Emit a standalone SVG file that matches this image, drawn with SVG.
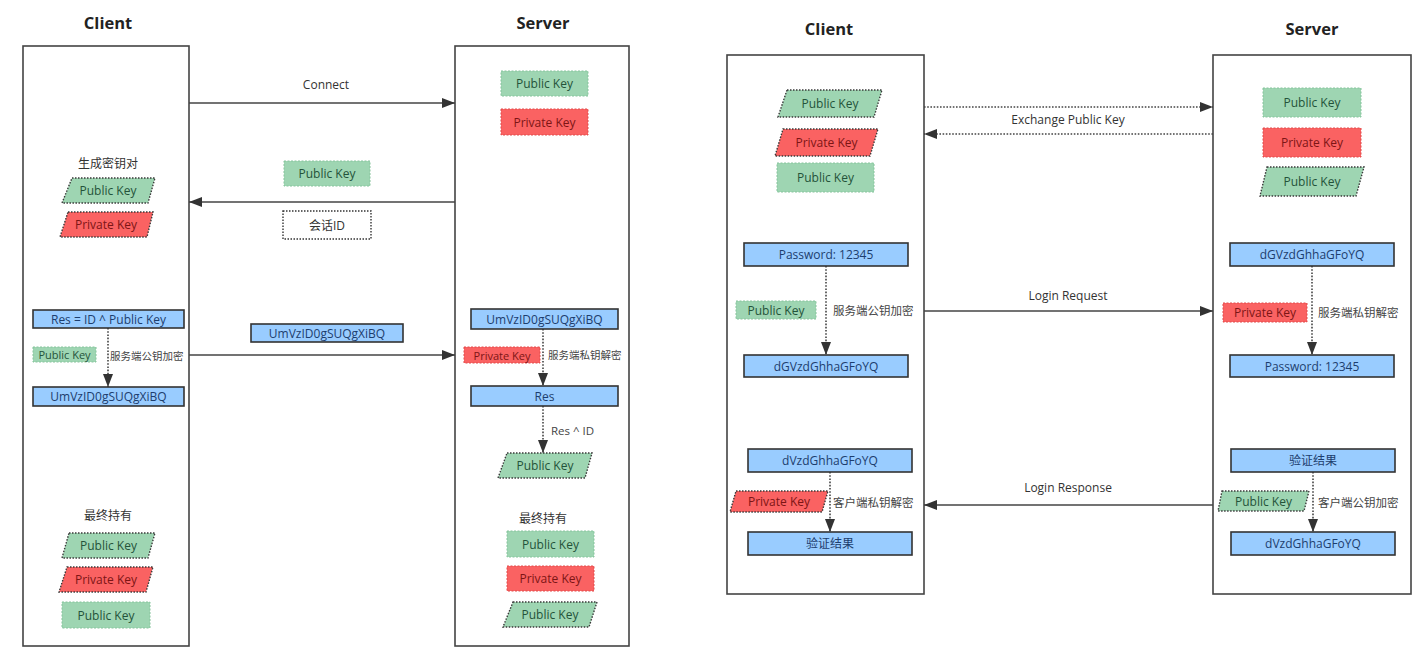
<svg xmlns="http://www.w3.org/2000/svg" width="1425" height="664" viewBox="0 0 1425 664">
<style>
text{font-family:"Open Sans","Noto Sans","Noto Sans CJK SC",sans-serif;font-size:12px;text-anchor:middle;dominant-baseline:central}
.title{font-size:16.5px;font-weight:bold;fill:#222}
.lbl{fill:#333;font-size:12px}
.note{fill:#444;text-anchor:start;font-size:11.5px}
.sn{font-size:10.5px}
.frame{fill:#fff;stroke:#444;stroke-width:1.6}
.gr{fill:#9ed5b2;stroke:#86c49c;stroke-width:1;stroke-dasharray:2 1.5}
.rd{fill:#fa6262;stroke:#e14a4a;stroke-width:1;stroke-dasharray:2 1.5}
.grp{fill:#9ed5b2;stroke:#3a3a3a;stroke-width:1.4;stroke-dasharray:1.5 1.5}
.rdp{fill:#fa6262;stroke:#3a3a3a;stroke-width:1.4;stroke-dasharray:1.5 1.5}
.bl{fill:#99ccff;stroke:#333;stroke-width:1.6}
.wt{fill:#fff;stroke:#333;stroke-width:1.4;stroke-dasharray:1.5 1.5}
.tg{fill:#24533a}
.tr{fill:#7d1515}
.tb{fill:#1d3e6e}
.tk{fill:#333}
.ln{fill:none;stroke:#444;stroke-width:1.6}
.dl{fill:none;stroke:#444;stroke-width:1.6;stroke-dasharray:1.6 1.6}
</style>
<defs>
<marker id="ah" markerUnits="userSpaceOnUse" markerWidth="14" markerHeight="10" refX="13" refY="5" orient="auto">
<path d="M0,0 L13,5 L0,10 Z" fill="#333"/>
</marker>
</defs>
<rect width="1425" height="664" fill="#fff"/>

<g id="l-client">
<text class="title" x="108" y="22">Client</text>
<rect class="frame" x="23" y="46" width="166" height="600"/>
</g>
<g id="l-server">
<text class="title" x="543" y="22">Server</text>
<rect class="frame" x="455" y="46" width="174" height="600"/>
</g>
<g id="r-client">
<text class="title" x="829" y="28">Client</text>
<rect class="frame" x="727" y="55" width="197" height="539"/>
</g>
<g id="r-server">
<text class="title" x="1312" y="28">Server</text>
<rect class="frame" x="1213" y="55" width="198" height="539"/>
</g>

<g id="connectors">
<path class="ln" d="M189,103 L455,103" marker-end="url(#ah)"/>
<path class="ln" d="M455,202 L189,202" marker-end="url(#ah)"/>
<path class="ln" d="M189,355 L455,355" marker-end="url(#ah)"/>
<path class="dl" d="M108,328 L108,387" marker-end="url(#ah)"/>
<path class="dl" d="M543,329 L543,386" marker-end="url(#ah)"/>
<path class="dl" d="M543,406 L543,453" marker-end="url(#ah)"/>
<path class="dl" d="M924,107 L1213,107" marker-end="url(#ah)"/>
<path class="dl" d="M1213,134 L924,134" marker-end="url(#ah)"/>
<path class="ln" d="M924,311 L1213,311" marker-end="url(#ah)"/>
<path class="ln" d="M1213,505 L924,505" marker-end="url(#ah)"/>
<path class="dl" d="M826,266 L826,355" marker-end="url(#ah)"/>
<path class="dl" d="M1312,266 L1312,355" marker-end="url(#ah)"/>
<path class="dl" d="M830,472 L830,532" marker-end="url(#ah)"/>
<path class="dl" d="M1313,472 L1313,532" marker-end="url(#ah)"/>
<text class="lbl" x="326" y="84">Connect</text>
<text class="lbl" x="1068" y="119">Exchange Public Key</text>
<text class="lbl" x="1068" y="295">Login Request</text>
<text class="lbl" x="1068" y="487">Login Response</text>
<text class="note sn" x="110" y="356">服务端公钥加密</text>
<text class="note sn" x="548" y="355">服务端私钥解密</text>
<text class="note" x="551" y="430">Res ^ ID</text>
<text class="note" x="833" y="310">服务端公钥加密</text>
<text class="note" x="1318" y="312">服务端私钥解密</text>
<text class="note" x="833" y="502">客户端私钥解密</text>
<text class="note" x="1318" y="502">客户端公钥加密</text>
</g>

<g id="l-s-pub"><rect class="gr" x="501" y="71" width="87" height="25"/><text class="tg" x="544.5" y="83.5">Public Key</text></g>
<g id="l-s-priv"><rect class="rd" x="501" y="109" width="87" height="26"/><text class="tr" x="544.5" y="122">Private Key</text></g>
<g id="l-msg-pub"><rect class="gr" x="284" y="161" width="86" height="25"/><text class="tg" x="327" y="173.5">Public Key</text></g>
<g id="l-msg-sid"><rect class="wt" x="283" y="211" width="88" height="28"/><text class="tk" x="327" y="225">会话ID</text></g>
<g id="l-msg-enc"><rect class="bl" x="251" y="324" width="152" height="18"/><text class="tb" x="327" y="333">UmVzID0gSUQgXiBQ</text></g>

<g id="l-c-gen"><text class="tk" x="108" y="163">生成密钥对</text></g>
<g id="l-c-pub1"><path class="grp" d="M72,178 L155,178 L148,203 L62,203 Z"/><text class="tg" x="108" y="190.5">Public Key</text></g>
<g id="l-c-priv1"><path class="rdp" d="M68,212 L153,212 L147,237 L60,237 Z"/><text class="tr" x="106" y="224.5">Private Key</text></g>
<g id="l-c-res"><rect class="bl" x="33" y="310" width="151" height="18"/><text class="tb" x="108.5" y="319">Res = ID ^ Public Key</text></g>
<g id="l-c-pubs"><rect class="gr" x="33" y="347" width="63" height="15"/><text class="tg" x="64.5" y="354.5" style="font-size:11px">Public Key</text></g>
<g id="l-c-enc"><rect class="bl" x="33" y="387" width="151" height="19"/><text class="tb" x="108.5" y="396.5">UmVzID0gSUQgXiBQ</text></g>
<g id="l-c-fin"><text class="tk" x="108" y="515">最终持有</text></g>
<g id="l-c-pub2"><path class="grp" d="M69,533 L155,533 L148,558 L62,558 Z"/><text class="tg" x="108.5" y="545.5">Public Key</text></g>
<g id="l-c-priv2"><path class="rdp" d="M67,567 L153,567 L146,592 L59,592 Z"/><text class="tr" x="106" y="579.5">Private Key</text></g>
<g id="l-c-pub3"><rect class="gr" x="62" y="602" width="88" height="26"/><text class="tg" x="106" y="615">Public Key</text></g>

<g id="l-s-enc"><rect class="bl" x="471" y="309" width="147" height="20"/><text class="tb" x="544.5" y="319">UmVzID0gSUQgXiBQ</text></g>
<g id="l-s-privs"><rect class="rd" x="464" y="347" width="76" height="16"/><text class="tr" x="502" y="355" style="font-size:11px">Private Key</text></g>
<g id="l-s-res"><rect class="bl" x="471" y="386" width="147" height="20"/><text class="tb" x="544.5" y="396">Res</text></g>
<g id="l-s-pubp"><path class="grp" d="M507,453 L592,453 L585,478 L498,478 Z"/><text class="tg" x="545" y="465.5">Public Key</text></g>
<g id="l-s-fin"><text class="tk" x="543" y="518">最终持有</text></g>
<g id="l-s-pub2"><rect class="gr" x="507" y="531" width="87" height="26"/><text class="tg" x="550.5" y="544">Public Key</text></g>
<g id="l-s-priv2"><rect class="rd" x="507" y="566" width="87" height="25"/><text class="tr" x="550.5" y="578.5">Private Key</text></g>
<g id="l-s-pub3"><path class="grp" d="M513,602 L597,602 L589,627 L503,627 Z"/><text class="tg" x="550" y="614.5">Public Key</text></g>

<g id="r-c-pub1"><path class="grp" d="M787,90 L882,90 L874,117 L778,117 Z"/><text class="tg" x="830" y="103.5">Public Key</text></g>
<g id="r-c-priv1"><path class="rdp" d="M783,129 L878,129 L870,156 L775,156 Z"/><text class="tr" x="826.5" y="142.5">Private Key</text></g>
<g id="r-c-pub2"><rect class="gr" x="777" y="163" width="97" height="29"/><text class="tg" x="825.5" y="177.5">Public Key</text></g>
<g id="r-s-pub1"><rect class="gr" x="1263" y="88" width="98" height="29"/><text class="tg" x="1312" y="102.5">Public Key</text></g>
<g id="r-s-priv1"><rect class="rd" x="1263" y="128" width="98" height="29"/><text class="tr" x="1312" y="142.5">Private Key</text></g>
<g id="r-s-pub2"><path class="grp" d="M1267,167 L1364,167 L1356,196 L1260,196 Z"/><text class="tg" x="1312" y="181.5">Public Key</text></g>

<g id="r-c-pwd"><rect class="bl" x="744" y="243" width="164" height="23"/><text class="tb" x="826" y="254.5">Password: 12345</text></g>
<g id="r-c-pubs"><rect class="gr" x="736" y="301" width="80" height="18"/><text class="tg" x="776" y="310">Public Key</text></g>
<g id="r-c-enc"><rect class="bl" x="744" y="355" width="164" height="22"/><text class="tb" x="826" y="366">dGVzdGhhaGFoYQ</text></g>

<g id="r-s-enc"><rect class="bl" x="1230" y="243" width="164" height="23"/><text class="tb" x="1312" y="254.5">dGVzdGhhaGFoYQ</text></g>
<g id="r-s-privs"><rect class="rd" x="1223" y="303" width="84" height="19"/><text class="tr" x="1265" y="312.5">Private Key</text></g>
<g id="r-s-pwd"><rect class="bl" x="1230" y="355" width="164" height="22"/><text class="tb" x="1312" y="366">Password: 12345</text></g>

<g id="r-c-resp"><rect class="bl" x="748" y="449" width="164" height="23"/><text class="tb" x="830" y="460.5">dVzdGhhaGFoYQ</text></g>
<g id="r-c-privp"><path class="rdp" d="M736,491 L828,491 L822,512 L730,512 Z"/><text class="tr" x="779" y="501.5">Private Key</text></g>
<g id="r-c-res"><rect class="bl" x="748" y="532" width="164" height="23"/><text class="tb" x="830" y="543.5">验证结果</text></g>

<g id="r-s-res"><rect class="bl" x="1231" y="449" width="164" height="23"/><text class="tb" x="1313" y="460.5">验证结果</text></g>
<g id="r-s-pubp"><path class="grp" d="M1222,491 L1309,491 L1304,511 L1218,511 Z"/><text class="tg" x="1263.5" y="501">Public Key</text></g>
<g id="r-s-resp"><rect class="bl" x="1231" y="532" width="164" height="23"/><text class="tb" x="1313" y="543.5">dVzdGhhaGFoYQ</text></g>
</svg>
